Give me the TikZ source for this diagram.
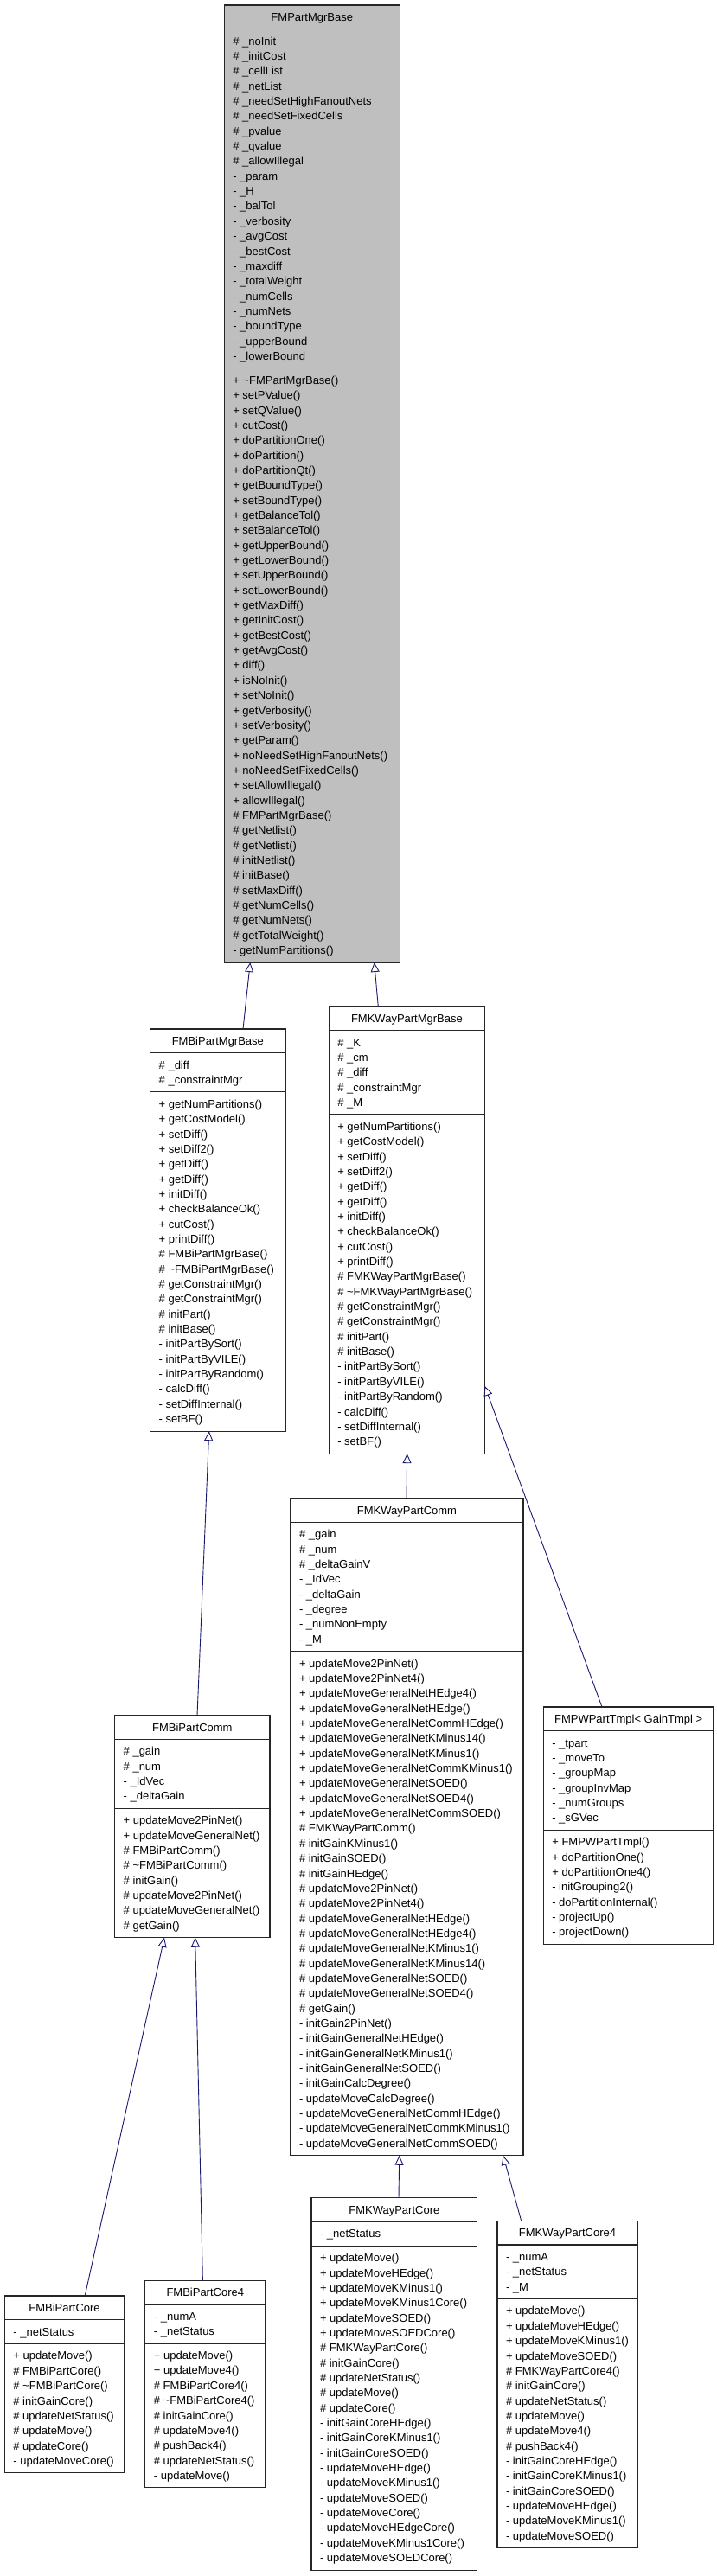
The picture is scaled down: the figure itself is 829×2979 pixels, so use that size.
\documentclass[tikz,border=0pt]{standalone}
\usepackage{fontspec}
\setmainfont{Liberation Sans}
\usetikzlibrary{arrows.meta,calc}
\definecolor{edgeblue}{HTML}{191970}
\definecolor{basegray}{HTML}{BFBFBF}
\tikzset{
  classbox/.style={draw=black!85, line width=1.1pt, inner sep=0pt, outer sep=0pt},
  septline/.style={draw=black!85, line width=1.1pt},
  membertext/.style={align=left, inner sep=0pt, outer sep=0pt, anchor=north west, font=\fontsize{13pt}{17.35pt}\selectfont},
  titletext/.style={inner sep=0pt, anchor=base, font=\fontsize{13pt}{17.35pt}\selectfont},
  inherit/.style={draw=edgeblue, line width=0.9pt, -{Triangle[open, length=11pt, width=10pt]}}
}
\def\classfill{white}
% #1 name, #2 left, #3 top, #4 width, #5 title, #6 nattr, #7 attrs, #8 nmeth, #9 methods
\newcommand{\umlclass}[9]{%
  \pgfmathsetmacro{\ha}{#6*17.35+10.5}%
  \pgfmathsetmacro{\hm}{#8*17.35+10.5}%
  \pgfmathsetmacro{\htot}{27.7+\ha+\hm}%
  \pgfmathsetmacro{\sepb}{27.7+\ha}%
  \node[classbox, fill=\classfill, minimum width=#4pt, minimum height=\htot pt, anchor=north west] (#1) at (#2,#3) {};
  \node[titletext] (#1-title) at ($(#1.north)+(0,18.35)$) {#5};
  \draw[septline] ($(#1.north west)+(0,27.7)$) -- ($(#1.north east)+(0,27.7)$);
  \draw[septline] ($(#1.north west)+(0,\sepb)$) -- ($(#1.north east)+(0,\sepb)$);
  \node[membertext] (#1-attr) at ($(#1.north west)+(10,33.95)$) {\strut #7};
  \node[membertext] (#1-meth) at ($(#1.north west)+(10,\sepb+6.25)$) {\strut #9};
}
\newcommand{\tl}{\textasciitilde}
\begin{document}
\begin{tikzpicture}[x=1pt,y=-1pt]
\useasboundingbox (0,0) rectangle (829,2979);

\def\classfill{basegray}
\umlclass{base}{259.3}{6}{203}{FMPartMgrBase}{22}{%
\# \_noInit\\ \# \_initCost\\ \# \_cellList\\ \# \_netList\\ \# \_needSetHighFanoutNets\\ \# \_needSetFixedCells\\ \# \_pvalue\\ \# \_qvalue\\ \# \_allowIllegal\\ - \_param\\ - \_H\\ - \_balTol\\ - \_verbosity\\ - \_avgCost\\ - \_bestCost\\ - \_maxdiff\\ - \_totalWeight\\ - \_numCells\\ - \_numNets\\ - \_boundType\\ - \_upperBound\\ - \_lowerBound}{39}{%
+ \tl FMPartMgrBase()\\ + setPValue()\\ + setQValue()\\ + cutCost()\\ + doPartitionOne()\\ + doPartition()\\ + doPartitionQt()\\ + getBoundType()\\ + setBoundType()\\ + getBalanceTol()\\ + setBalanceTol()\\ + getUpperBound()\\ + getLowerBound()\\ + setUpperBound()\\ + setLowerBound()\\ + getMaxDiff()\\ + getInitCost()\\ + getBestCost()\\ + getAvgCost()\\ + diff()\\ + isNoInit()\\ + setNoInit()\\ + getVerbosity()\\ + setVerbosity()\\ + getParam()\\ + noNeedSetHighFanoutNets()\\ + noNeedSetFixedCells()\\ + setAllowIllegal()\\ + allowIllegal()\\ \# FMPartMgrBase()\\ \# getNetlist()\\ \# getNetlist()\\ \# initNetlist()\\ \# initBase()\\ \# setMaxDiff()\\ \# getNumCells()\\ \# getNumNets()\\ \# getTotalWeight()\\ - getNumPartitions()}
\def\classfill{white}

\umlclass{bimgr}{173.7}{1190}{156.3}{FMBiPartMgrBase}{2}{%
\# \_diff\\ \# \_constraintMgr}{22}{%
+ getNumPartitions()\\ + getCostModel()\\ + setDiff()\\ + setDiff2()\\ + getDiff()\\ + getDiff()\\ + initDiff()\\ + checkBalanceOk()\\ + cutCost()\\ + printDiff()\\ \# FMBiPartMgrBase()\\ \# \tl FMBiPartMgrBase()\\ \# getConstraintMgr()\\ \# getConstraintMgr()\\ \# initPart()\\ \# initBase()\\ - initPartBySort()\\ - initPartByVILE()\\ - initPartByRandom()\\ - calcDiff()\\ - setDiffInternal()\\ - setBF()}

\umlclass{kmgr}{380.3}{1164}{180.3}{FMKWayPartMgrBase}{5}{%
\# \_K\\ \# \_cm\\ \# \_diff\\ \# \_constraintMgr\\ \# \_M}{22}{%
+ getNumPartitions()\\ + getCostModel()\\ + setDiff()\\ + setDiff2()\\ + getDiff()\\ + getDiff()\\ + initDiff()\\ + checkBalanceOk()\\ + cutCost()\\ + printDiff()\\ \# FMKWayPartMgrBase()\\ \# \tl FMKWayPartMgrBase()\\ \# getConstraintMgr()\\ \# getConstraintMgr()\\ \# initPart()\\ \# initBase()\\ - initPartBySort()\\ - initPartByVILE()\\ - initPartByRandom()\\ - calcDiff()\\ - setDiffInternal()\\ - setBF()}

\umlclass{kcomm}{336}{1732.7}{269}{FMKWayPartComm}{8}{%
\# \_gain\\ \# \_num\\ \# \_deltaGainV\\ - \_IdVec\\ - \_deltaGain\\ - \_degree\\ - \_numNonEmpty\\ - \_M}{33}{%
+ updateMove2PinNet()\\ + updateMove2PinNet4()\\ + updateMoveGeneralNetHEdge4()\\ + updateMoveGeneralNetHEdge()\\ + updateMoveGeneralNetCommHEdge()\\ + updateMoveGeneralNetKMinus14()\\ + updateMoveGeneralNetKMinus1()\\ + updateMoveGeneralNetCommKMinus1()\\ + updateMoveGeneralNetSOED()\\ + updateMoveGeneralNetSOED4()\\ + updateMoveGeneralNetCommSOED()\\ \# FMKWayPartComm()\\ \# initGainKMinus1()\\ \# initGainSOED()\\ \# initGainHEdge()\\ \# updateMove2PinNet()\\ \# updateMove2PinNet4()\\ \# updateMoveGeneralNetHEdge()\\ \# updateMoveGeneralNetHEdge4()\\ \# updateMoveGeneralNetKMinus1()\\ \# updateMoveGeneralNetKMinus14()\\ \# updateMoveGeneralNetSOED()\\ \# updateMoveGeneralNetSOED4()\\ \# getGain()\\ - initGain2PinNet()\\ - initGainGeneralNetHEdge()\\ - initGainGeneralNetKMinus1()\\ - initGainGeneralNetSOED()\\ - initGainCalcDegree()\\ - updateMoveCalcDegree()\\ - updateMoveGeneralNetCommHEdge()\\ - updateMoveGeneralNetCommKMinus1()\\ - updateMoveGeneralNetCommSOED()}

\umlclass{pw}{628.3}{1974}{196.7}{FMPWPartTmpl< GainTmpl >}{6}{%
- \_tpart\\ - \_moveTo\\ - \_groupMap\\ - \_groupInvMap\\ - \_numGroups\\ - \_sGVec}{7}{%
+ FMPWPartTmpl()\\ + doPartitionOne()\\ + doPartitionOne4()\\ - initGrouping2()\\ - doPartitionInternal()\\ - projectUp()\\ - projectDown()}

\umlclass{bicomm}{132.7}{1983.8}{179.3}{FMBiPartComm}{4}{%
\# \_gain\\ \# \_num\\ - \_IdVec\\ - \_deltaGain}{8}{%
+ updateMove2PinNet()\\ + updateMoveGeneralNet()\\ \# FMBiPartComm()\\ \# \tl FMBiPartComm()\\ \# initGain()\\ \# updateMove2PinNet()\\ \# updateMoveGeneralNet()\\ \# getGain()}

\umlclass{bicore}{5.4}{2655}{138.3}{FMBiPartCore}{1}{%
- \_netStatus}{8}{%
+ updateMove()\\ \# FMBiPartCore()\\ \# \tl FMBiPartCore()\\ \# initGainCore()\\ \# updateNetStatus()\\ \# updateMove()\\ \# updateCore()\\ - updateMoveCore()}

\umlclass{bicore4}{167.9}{2637.3}{138.8}{FMBiPartCore4}{2}{%
- \_numA\\ - \_netStatus}{9}{%
+ updateMove()\\ + updateMove4()\\ \# FMBiPartCore4()\\ \# \tl FMBiPartCore4()\\ \# initGainCore()\\ \# updateMove4()\\ \# pushBack4()\\ \# updateNetStatus()\\ - updateMove()}

\umlclass{kcore}{360}{2541.7}{191.7}{FMKWayPartCore}{1}{%
- \_netStatus}{21}{%
+ updateMove()\\ + updateMoveHEdge()\\ + updateMoveKMinus1()\\ + updateMoveKMinus1Core()\\ + updateMoveSOED()\\ + updateMoveSOEDCore()\\ \# FMKWayPartCore()\\ \# initGainCore()\\ \# updateNetStatus()\\ \# updateMove()\\ \# updateCore()\\ - initGainCoreHEdge()\\ - initGainCoreKMinus1()\\ - initGainCoreSOED()\\ - updateMoveHEdge()\\ - updateMoveKMinus1()\\ - updateMoveSOED()\\ - updateMoveCore()\\ - updateMoveHEdgeCore()\\ - updateMoveKMinus1Core()\\ - updateMoveSOEDCore()}

\umlclass{kcore4}{575}{2568.3}{162}{FMKWayPartCore4}{3}{%
- \_numA\\ - \_netStatus\\ - \_M}{16}{%
+ updateMove()\\ + updateMoveHEdge()\\ + updateMoveKMinus1()\\ + updateMoveSOED()\\ \# FMKWayPartCore4()\\ \# initGainCore()\\ \# updateNetStatus()\\ \# updateMove()\\ \# updateMove4()\\ \# pushBack4()\\ - initGainCoreHEdge()\\ - initGainCoreKMinus1()\\ - initGainCoreSOED()\\ - updateMoveHEdge()\\ - updateMoveKMinus1()\\ - updateMoveSOED()}

% inheritance connectors (arrowhead at the base class)
\draw[inherit] ([xshift=107.3pt]bimgr.north west) -- ([xshift=30pt]base.south west);
\draw[inherit] ([xshift=57pt]kmgr.north west) -- ([xshift=173.4pt]base.south west);
\draw[inherit] ([xshift=95.3pt]bicomm.north west) -- ([xshift=68pt]bimgr.south west);
\draw[inherit] ([xshift=134pt]kcomm.north west) -- ([xshift=90.4pt]kmgr.south west);
\draw[inherit] ([xshift=67.7pt]pw.north west) -- ([yshift=-439pt]kmgr.north east);
\draw[inherit] ([xshift=92.8pt]bicore.north west) -- ([xshift=57.3pt]bicomm.south west);
\draw[inherit] ([xshift=66.5pt]bicore4.north west) -- ([xshift=93pt]bicomm.south west);
\draw[inherit] ([xshift=101pt]kcore.north west) -- ([xshift=125.7pt]kcomm.south west);
\draw[inherit] ([xshift=27.7pt]kcore4.north west) -- ([xshift=245.7pt]kcomm.south west);
\end{tikzpicture}
\end{document}
